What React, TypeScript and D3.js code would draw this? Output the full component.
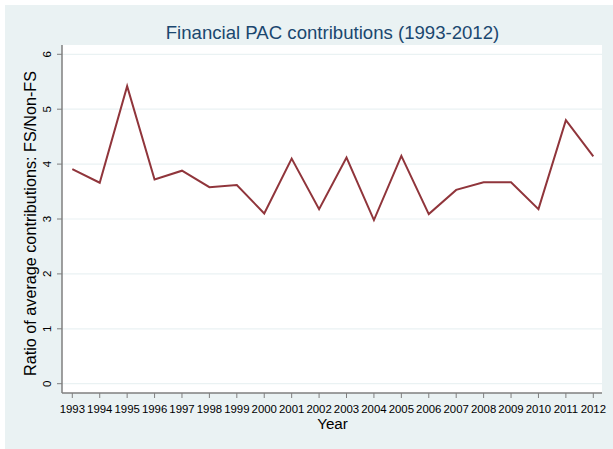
import React from "react";
import * as d3 from "d3";

const years = [1993,1994,1995,1996,1997,1998,1999,2000,2001,2002,2003,2004,2005,2006,2007,2008,2009,2010,2011,2012];
const ratios = [3.91,3.66,5.42,3.72,3.88,3.58,3.62,3.10,4.10,3.18,4.12,2.98,4.15,3.09,3.53,3.67,3.67,3.18,4.80,4.14];
const yTicks = [0,1,2,3,4,5,6];

const W = 613, H = 449;
const plot = { left: 62, right: 602, top: 45, bottom: 393 };

export default function App() {
  const x = d3.scaleLinear().domain([1993, 2012]).range([72.3, 593.3]);
  const y = d3.scaleLinear().domain([0, 6]).range([383.7, 54.3]);
  const line = d3.line<number>().x((_, i) => x(years[i])).y((d) => y(d));
  const axisColor = "#7f7f7f";
  const font = "'Liberation Sans', Arial, sans-serif";
  return (
    <svg width={W} height={H} style={{ position: "absolute", left: 0, top: 0 }} fontFamily={font}>
      <rect x={0} y={0} width={W} height={H} fill="#ffffff" />
      <rect x={5} y={5} width={W - 5} height={H - 5} fill="#eaf2f3" />
      <rect x={plot.left} y={plot.top} width={plot.right - plot.left} height={plot.bottom - plot.top} fill="#ffffff" />
      {yTicks.map((t) => (
        <line key={"g" + t} x1={plot.left} x2={plot.right} y1={y(t)} y2={y(t)} stroke="#eaf2f3" strokeWidth={1.2} />
      ))}
      <text x={332.5} y={38.5} textAnchor="middle" fontSize={18.6} fill="#1a476f">Financial PAC contributions (1993-2012)</text>
      <line x1={plot.left} x2={plot.left} y1={plot.top} y2={plot.bottom} stroke={axisColor} strokeWidth={1.5} />
      <line x1={plot.left} x2={plot.right} y1={plot.bottom} y2={plot.bottom} stroke={axisColor} strokeWidth={1.5} />
      {yTicks.map((t) => (
        <g key={"y" + t}>
          <line x1={plot.left - 5} x2={plot.left} y1={y(t)} y2={y(t)} stroke={axisColor} strokeWidth={1} />
          <text transform={`translate(${51},${y(t)}) rotate(-90)`} textAnchor="middle" fontSize={11.5} fill="#000">{t}</text>
        </g>
      ))}
      {years.map((yr) => (
        <g key={"x" + yr}>
          <line x1={x(yr)} x2={x(yr)} y1={plot.bottom} y2={plot.bottom + 5} stroke={axisColor} strokeWidth={1} />
          <text x={x(yr)} y={413} textAnchor="middle" fontSize={11.4} fill="#000">{yr}</text>
        </g>
      ))}
      <text x={332.5} y={429} textAnchor="middle" fontSize={15.2} fill="#000">Year</text>
      <text transform={`translate(${35.5},${223.5}) rotate(-90)`} textAnchor="middle" fontSize={16.2} fill="#000">Ratio of average contributions: FS/Non-FS</text>
      <path d={line(ratios) || ""} fill="none" stroke="#90353b" strokeWidth={2} strokeLinejoin="miter" />
    </svg>
  );
}
